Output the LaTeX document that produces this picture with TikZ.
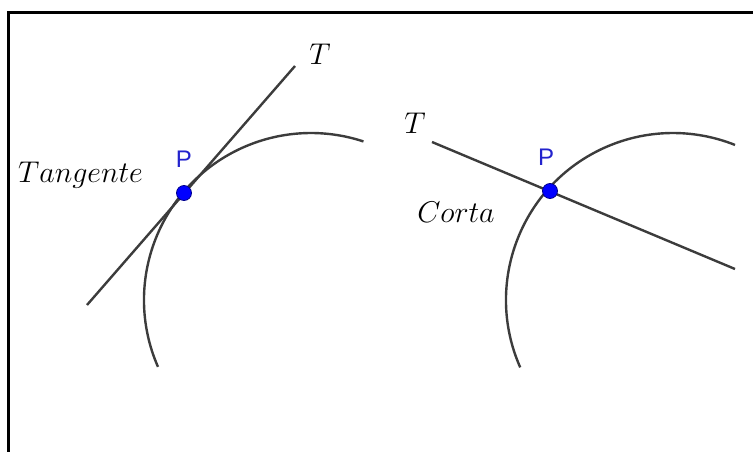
\RequirePackage{fix-cm}
\documentclass[tikz,border=0pt]{standalone}
\usepackage{fontspec}
\newfontfamily\geofont{Liberation Sans}
\definecolor{curvegray}{RGB}{60,60,60}
\definecolor{ptblue}{RGB}{0,0,255}
\definecolor{ptedge}{RGB}{0,0,140}
\definecolor{lblblue}{RGB}{35,35,205}
\tikzset{
  curve/.style={draw=curvegray, line width=2.4pt},
  frameline/.style={draw=black, line width=3pt},
  geopoint/.style={circle, fill=ptblue, draw=ptedge, line width=0.8pt, minimum size=15pt, inner sep=0pt},
  ptlabel/.style={anchor=base, text=lblblue, font=\geofont\fontsize{24}{28}\selectfont, inner sep=0pt},
  mathlabel/.style={anchor=base, inner sep=0pt, font=\fontsize{30}{36}\selectfont},
}
\begin{document}
\begin{tikzpicture}[x=1pt, y=-1pt]
\useasboundingbox (0,0) rectangle (753,452);
% frame (only top and left edges visible)
\coordinate (fTR) at (753,12.5);
\coordinate (fTL) at (8.5,12.5);
\coordinate (fBL) at (8.5,452);
\draw[frameline] (fTR) -- (fTL) -- (fBL);

% ---------- left: tangent ----------
\coordinate (LA) at (87,305);
\coordinate (LB) at (295,66);
\coordinate (LC) at (311,300);
\draw[curve] (LA) -- (LB);
\draw[curve] ([shift={(156.4:167)}]LC) arc[start angle=156.4, end angle=288.3, radius=167];
\node[geopoint] (P1) at (184,193) {};
\node[ptlabel] (P1lbl) at (184,167) {P};
\node[mathlabel] (T1) at (320,65) {$T$};
\node[mathlabel] (tang) at (80.5,182) {$Tangente$};

% ---------- right: secant ----------
\coordinate (RA) at (432,142);
\coordinate (RB) at (735,269);
\coordinate (RC) at (673,300);
\draw[curve] (RA) -- (RB);
\draw[curve] ([shift={(156.2:167)}]RC) arc[start angle=156.2, end angle=291.8, radius=167];
\node[geopoint] (P2) at (550,191) {};
\node[ptlabel] (P2lbl) at (546,165) {P};
\node[mathlabel] (T2) at (415,133) {$T$};
\node[mathlabel] (corta) at (456,222) {$Corta$};
\end{tikzpicture}
\end{document}
